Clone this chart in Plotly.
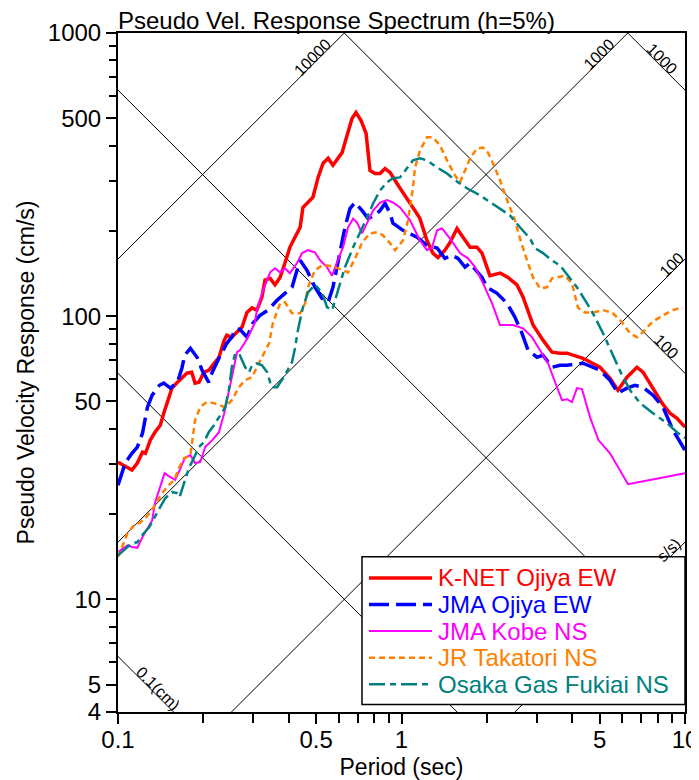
"""Pseudo velocity response spectrum (h=5%) - tripartite log-log chart."""
import numpy as np
import plotly.graph_objects as go

FONT = "Arial, 'Liberation Sans', sans-serif"

# --- spectra: period (sec) / pseudo velocity (cm/s) ---
knet_T = [0.100, 0.108, 0.112, 0.117, 0.122, 0.125, 0.130, 0.135, 0.141, 0.145,
          0.151, 0.155, 0.162, 0.168, 0.175, 0.182, 0.187, 0.193, 0.201, 0.209,
          0.218, 0.227, 0.237, 0.242, 0.252, 0.263, 0.274, 0.285, 0.297, 0.309,
          0.322, 0.330, 0.344, 0.358, 0.373, 0.388, 0.404, 0.421, 0.439, 0.449,
          0.476, 0.487, 0.508, 0.529, 0.551, 0.573, 0.617, 0.642, 0.669, 0.691,
          0.720, 0.750, 0.774, 0.806, 0.840, 0.875, 0.911, 0.964, 1.03, 1.10,
          1.16, 1.23, 1.29, 1.345, 1.423, 1.483, 1.57, 1.648, 1.745, 1.846,
          1.923, 2.05, 2.23, 2.375, 2.555, 2.683, 2.795, 2.911, 3.155, 3.395,
          3.623, 3.835, 4.368, 5.013, 5.438, 5.802, 6.243, 6.77, 7.11, 7.65,
          8.30, 8.85, 9.37, 10.0]
knet_sv = [30.5, 29.1, 28.6, 30.3, 33.1, 32.8, 36.5, 38.9, 41.2, 45.4,
           51.8, 55.7, 58.4, 60.3, 62.9, 63.4, 58.0, 58.4, 63.4, 64.4,
           68.2, 71.6, 82.3, 85.6, 84.3, 87.8, 91.5, 103, 107, 105,
           117, 134, 136, 129, 137, 154, 175, 190, 206, 242,
           257, 263, 309, 347, 361, 341, 378, 435, 499, 524,
           491, 442, 327, 319, 319, 332, 322, 294, 267, 242,
           222, 185, 167, 161, 171, 182, 204, 190, 175, 175,
           167, 139, 142, 137, 129, 117, 105, 93, 82.3, 74.6,
           74, 74, 71.0, 66.0, 60.3, 54.8, 60.9, 66.0, 63.4, 56.1,
           49.3, 45.4, 43.6, 40.6]

jma_ojiya_T = [0.100, 0.106, 0.112, 0.117, 0.122, 0.127, 0.132, 0.140, 0.145, 0.153,
               0.162, 0.168, 0.172, 0.180, 0.190, 0.198, 0.209, 0.215, 0.227, 0.242,
               0.252, 0.259, 0.269, 0.285, 0.299, 0.317, 0.338, 0.364, 0.388, 0.411,
               0.428, 0.439, 0.464, 0.495, 0.524, 0.551, 0.573, 0.597, 0.632, 0.658,
               0.686, 0.726, 0.762, 0.806, 0.840, 0.875, 0.911, 0.933, 1.012, 1.134,
               1.230, 1.335, 1.423, 1.507, 1.582, 1.675, 1.745, 1.923, 2.003, 2.173,
               2.356, 2.514, 2.661, 2.795, 3.006, 3.155, 3.395, 3.623, 3.835, 4.368,
               5.013, 5.438, 5.802, 6.243, 6.66, 7.11, 7.71, 8.36, 9.07, 10.0]
jma_ojiya_sv = [25.3, 30.3, 32.8, 34.5, 38.6, 47.7, 52.6, 57.0, 58.0, 55.7,
                58.4, 65.5, 72.8, 77.0, 71.6, 64.4, 58.4, 63.4, 71.0, 80.2,
                84.3, 89.9, 89.9, 84.3, 94.4, 100.7, 105, 113.8, 120.4, 126.5,
                145.2, 157.5, 145.2, 126.5, 115.7, 112, 126.5, 157.5, 206, 240,
                252, 236, 221, 227, 236, 250, 231, 213, 201, 190,
                178, 174, 160, 164, 160, 149, 154, 137, 126.5, 120.4,
                111, 99.1, 87, 75.8, 71.6, 72.8, 66.0, 67.1, 67.1, 68.2,
                64.4, 59.4, 53.5, 55.7, 57.0, 56.1, 52.6, 47.7, 39.6, 33.6]

jma_kobe_T = [0.100, 0.108, 0.112, 0.117, 0.122, 0.127, 0.132, 0.135, 0.141, 0.146,
              0.153, 0.159, 0.165, 0.172, 0.180, 0.187, 0.195, 0.203, 0.215, 0.227,
              0.237, 0.246, 0.257, 0.263, 0.269, 0.281, 0.292, 0.304, 0.309, 0.325,
              0.344, 0.358, 0.373, 0.388, 0.404, 0.428, 0.446, 0.468, 0.495, 0.516,
              0.546, 0.569, 0.592, 0.622, 0.648, 0.675, 0.697, 0.726, 0.756, 0.794,
              0.840, 0.889, 0.933, 0.988, 1.072, 1.162, 1.230, 1.282, 1.335, 1.390,
              1.483, 1.608, 1.716, 1.817, 1.939, 2.086, 2.226, 2.474, 2.683, 2.886,
              3.08, 3.287, 3.536, 3.683, 3.835, 3.993, 4.159, 4.332, 4.623, 4.95,
              5.438, 5.898, 6.295, 7.523, 10.0]
jma_kobe_sv = [14.7, 15.5, 15.3, 15.2, 16.6, 17.8, 19.0, 21.9, 24.9, 27.9,
               27.0, 26.4, 28.6, 31.5, 32.3, 30.3, 30.5, 34.5, 36.5, 38.9,
               45.4, 54.8, 68.2, 74.6, 75.8, 81.0, 87.0, 94.8, 105, 123.4,
               142.8, 147.6, 142.8, 147.6, 141.7, 154, 167, 171, 168, 157.5,
               149, 139, 155, 175, 206, 221, 214, 196, 213, 236,
               252, 257, 252, 242, 218, 185, 171, 175, 201, 204,
               188, 167, 160, 149, 130.6, 111, 93, 93, 90.6, 84.3,
               75.8, 68.2, 56.1, 50.5, 50.9, 49.7, 55.7, 55.3, 44.0, 36.5,
               32.8, 28.6, 25.5, 26.4, 27.9]

takatori_T = [0.100, 0.108, 0.114, 0.120, 0.125, 0.130, 0.135, 0.143, 0.151, 0.158,
              0.164, 0.171, 0.180, 0.182, 0.187, 0.195, 0.206, 0.218, 0.227, 0.239,
              0.252, 0.267, 0.281, 0.297, 0.314, 0.327, 0.341, 0.352, 0.373, 0.388,
              0.411, 0.439, 0.457, 0.468, 0.495, 0.524, 0.551, 0.583, 0.617, 0.648,
              0.686, 0.726, 0.774, 0.820, 0.860, 0.911, 0.949, 1.012, 1.054, 1.098,
              1.116, 1.162, 1.230, 1.291, 1.367, 1.447, 1.544, 1.608, 1.675, 1.745,
              1.846, 1.939, 2.019, 2.103, 2.226, 2.356, 2.514, 2.618, 2.772, 2.911,
              3.08, 3.261, 3.395, 3.536, 3.773, 3.993, 4.194, 4.440, 4.738, 5.138,
              5.528, 5.996, 6.397, 6.77, 7.11, 7.65, 8.36, 9.07, 9.80]
takatori_sv = [14.1, 17.1, 18.3, 18.7, 19.4, 20.3, 21.5, 23.7, 25.3, 26.4,
               29.1, 31.5, 32.3, 35.6, 42.9, 47.7, 49.8, 49.3, 48.5, 47.7,
               50.5, 56.1, 59.4, 60.9, 68.2, 74.0, 80.2, 94.8, 111, 112,
               102.4, 102.4, 111, 126.5, 145.2, 151, 151, 149, 145.2, 142.8,
               160, 182, 196, 198, 193, 181, 171, 185, 218, 285,
               335, 385, 428, 428, 401, 355, 314, 297, 327, 361,
               391, 394, 378, 347, 302, 257, 218, 188, 157.5, 137,
               125.4, 126.5, 136, 137, 139, 130.6, 107, 103, 103, 105,
               103, 95.2, 87, 84.3, 87.8, 95.2, 100.7, 105, 107.5]

fukiai_T = [0.100, 0.108, 0.112, 0.117, 0.122, 0.129, 0.134, 0.141, 0.147, 0.155,
            0.162, 0.165, 0.171, 0.178, 0.185, 0.193, 0.201, 0.209, 0.218, 0.227,
            0.239, 0.246, 0.252, 0.259, 0.269, 0.281, 0.290, 0.297, 0.309, 0.322,
            0.336, 0.344, 0.349, 0.364, 0.388, 0.411, 0.421, 0.431, 0.449, 0.468,
            0.495, 0.524, 0.546, 0.569, 0.597, 0.632, 0.675, 0.714, 0.756, 0.794,
            0.840, 0.889, 0.933, 0.988, 1.045, 1.098, 1.162, 1.230, 1.335, 1.447,
            1.582, 1.702, 1.892, 2.052, 2.226, 2.414, 2.618, 2.84, 2.957, 3.155,
            3.395, 3.623, 3.867, 4.159, 4.512, 4.814, 5.138, 5.528, 5.996, 6.397,
            6.94, 7.71, 8.64, 9.37, 10.0]
fukiai_sv = [14.3, 15.3, 15.8, 15.9, 16.9, 18.0, 19.4, 21.2, 22.8, 23.9,
             23.7, 23.0, 25.7, 29.1, 31.5, 34.5, 35.9, 38.9, 41.2, 44.0,
             47.7, 54.8, 66.0, 74.0, 72.8, 66.0, 63.4, 67.1, 68.2, 67.1,
             63.4, 58.4, 56.1, 56.1, 61.9, 68.8, 77.0, 89.0, 107.5, 121.4,
             129, 121.4, 107.5, 105, 123.4, 149, 175, 196, 223, 250,
             278, 297, 307, 309, 333, 355, 361, 355, 335, 319,
             297, 283, 267, 253, 240, 227, 206, 188, 174, 167,
             157.5, 151, 139, 126.5, 111, 99.1, 87, 74, 61.9, 54.8,
             49.3, 45.4, 41.9, 38.9, 37.1]

names = ["K-NET Ojiya EW", "JMA Ojiya EW", "JMA Kobe NS", "JR Takatori NS",
         "Osaka Gas Fukiai NS"]

# tripartite guide lines: displacement (cm) and acceleration (cm/s/s) levels
disp_levels = [0.1, 1, 10, 100, 1000]
acc_levels = [10, 100, 1000, 10000]

x_ticks = [0.1, 0.5, 1, 5, 10]
y_ticks = [4, 5, 10, 50, 100, 500, 1000]

series = [
    (names[0], knet_T, knet_sv, "#ff0000", 3.5, "solid"),
    (names[1], jma_ojiya_T, jma_ojiya_sv, "#0000ff", 3.5, "20px,7px"),
    (names[2], jma_kobe_T, jma_kobe_sv, "#ff00ff", 2, "solid"),
    (names[3], takatori_T, takatori_sv, "#ff8000", 2.5, "6px,4px"),
    (names[4], fukiai_T, fukiai_sv, "#008080", 2.5, "16px,5px,6px,5px"),
]

fig = go.Figure()

T_ends = np.array([0.1, 10.0])
for d in disp_levels:
    fig.add_trace(go.Scatter(x=T_ends, y=2 * np.pi * d / T_ends, mode="lines",
                             line=dict(color="black", width=1),
                             showlegend=False, hoverinfo="skip"))
for a in acc_levels:
    fig.add_trace(go.Scatter(x=T_ends, y=a * T_ends / (2 * np.pi), mode="lines",
                             line=dict(color="black", width=1),
                             showlegend=False, hoverinfo="skip"))

for name, T, sv, color, width, dash in series:
    fig.add_trace(go.Scatter(x=T, y=sv, mode="lines", name=name,
                             line=dict(color=color, width=width, dash=dash),
                             showlegend=False))

# labels along the guide lines (label text, level, period where it sits)
disp_labels = [("0.1(cm)", 0.1, 0.134), ("100", 100, 8.3), ("1000", 1000, 8.0)]
acc_labels = [("s/s)", 10, 9.1), ("100", 100, 9.29), ("1000", 1000, 5.12),
              ("10000", 10000, 0.50)]

annotations = []
for text, d, t in disp_labels:
    annotations.append(dict(
        x=np.log10(t), y=np.log10(2 * np.pi * d / t), xref="x", yref="y",
        text=text, showarrow=False, textangle=45, xshift=4, yshift=4,
        font=dict(size=16, color="black", family=FONT)))
for text, a, t in acc_labels:
    annotations.append(dict(
        x=np.log10(t), y=np.log10(a * t / (2 * np.pi)), xref="x", yref="y",
        text=text, showarrow=False, textangle=-45, xshift=-4, yshift=4,
        font=dict(size=16, color="black", family=FONT)))


# hand-drawn legend box (page px -> paper coords of the plot area)
def px_x(px):
    return (px - 118) / 567


def px_y(py):
    return (712.5 - py) / 680


shapes = [dict(type="rect", xref="paper", yref="paper", layer="above",
               x0=px_x(362), x1=1.0, y0=px_y(705), y1=px_y(557),
               line=dict(color="black", width=1.5), fillcolor="white")]
for i, (name, T, sv, color, width, dash) in enumerate(series):
    row = px_y(578.3 + i * 26.6)
    shapes.append(dict(type="line", xref="paper", yref="paper", layer="above",
                       x0=px_x(369), x1=px_x(432), y0=row, y1=row,
                       line=dict(color=color, width=width, dash=dash)))
    annotations.append(dict(x=px_x(436), y=row, xref="paper", yref="paper",
                            xanchor="left", yanchor="middle", showarrow=False,
                            text=name, font=dict(size=24, color=color, family=FONT)))

minor_x = [0.2, 0.3, 0.4, 0.6, 0.7, 0.8, 0.9, 2, 3, 4, 6, 7, 8, 9]
minor_y = [6, 7, 8, 9, 20, 30, 40, 60, 70, 80, 90, 200, 300, 400, 600, 700, 800, 900]

axis_common = dict(
    type="log", showgrid=False, zeroline=False, automargin=False,
    showline=True, linecolor="black", linewidth=2, mirror=True,
    ticks="outside", ticklen=10, tickwidth=1.5, tickcolor="black",
    tickfont=dict(size=24, color="black", family=FONT),
)

# the page body adds an 8px margin, so the figure is 8px smaller each way
fig.update_layout(
    width=691, height=772,
    margin=dict(l=110, r=14, t=24.5, b=67.5),
    paper_bgcolor="white", plot_bgcolor="white",
    font=dict(family=FONT, color="black"),
    title=dict(text="Pseudo Vel. Response Spectrum (h=5%)",
               x=0, xref="paper", xanchor="left",
               y=1 - 13 / 772, yref="container", yanchor="middle",
               font=dict(size=24, color="black", family=FONT)),
    xaxis=dict(axis_common, range=[np.log10(0.1), np.log10(10)],
               tickvals=x_ticks, ticktext=[str(v) for v in x_ticks],
               ticklabelstandoff=-5,
               minor=dict(tickvals=minor_x, ticks="outside", ticklen=9,
                          tickwidth=1.5, tickcolor="black"),
               title=dict(text="Period (sec)", standoff=8,
                          font=dict(size=23, color="black", family=FONT))),
    yaxis=dict(axis_common, range=[np.log10(4), 3],
               tickvals=y_ticks, ticktext=[str(v) for v in y_ticks],
               minor=dict(tickvals=minor_y, ticks="outside", ticklen=7,
                          tickwidth=1.5, tickcolor="black"),
               title=dict(text="Pseudo Velocity Response (cm/s)", standoff=7,
                          font=dict(size=23, color="black", family=FONT))),
    showlegend=False,
    shapes=shapes,
    annotations=annotations,
    hovermode=False,
)

fig.write_html("out.html")
